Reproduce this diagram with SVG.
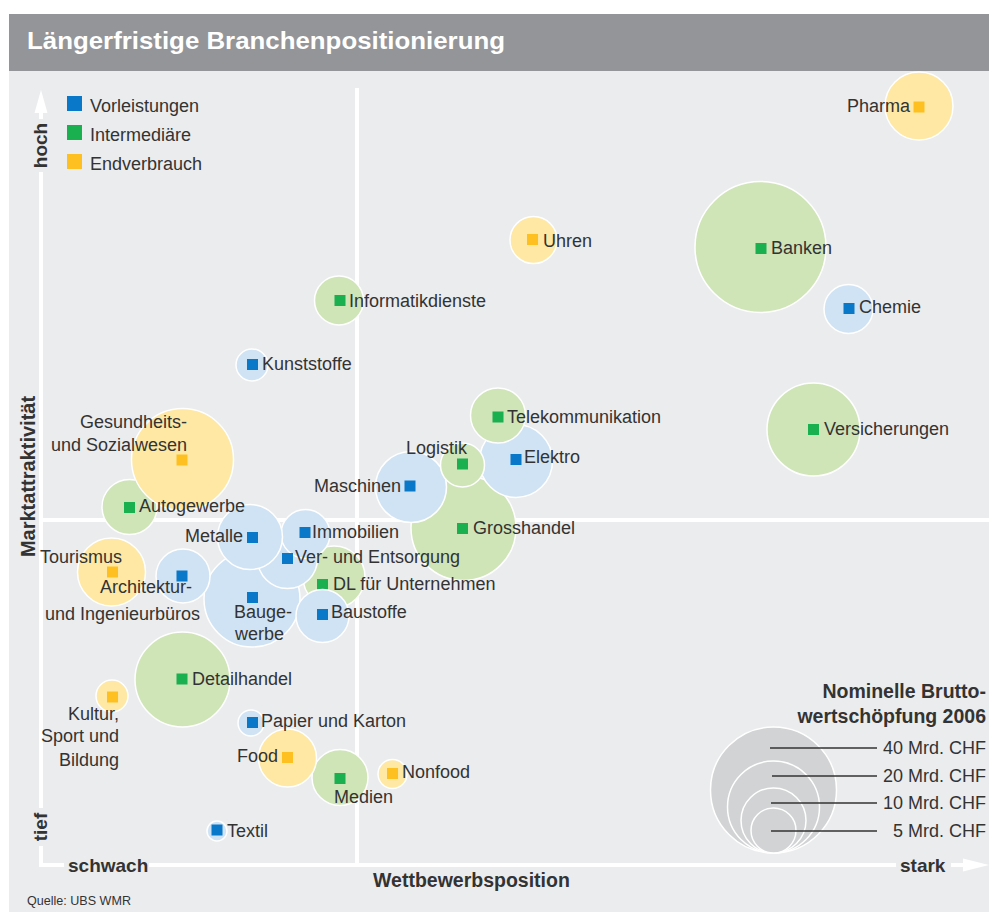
<svg xmlns="http://www.w3.org/2000/svg" width="989" height="914" viewBox="0 0 989 914">
<style>
.t{font-family:"Liberation Sans",Arial,sans-serif;font-size:18px;fill:#333}
.b{font-weight:bold}
.e{text-anchor:end}
.m{text-anchor:middle}
.cb{fill:#d0e3f4;stroke:#fff;stroke-width:1.5}
.cg{fill:#cfe5b8;stroke:#fff;stroke-width:1.5}
.cy{fill:#fee8a4;stroke:#fff;stroke-width:1.5}
.mb{fill:#0a78c8}
.mg{fill:#1aaf4f}
.my{fill:#fdc020}
.ax{stroke:#fff;stroke-width:4;fill:none}
.lc{fill:#d1d3d4;stroke:#fff;stroke-width:1.5}
.ll{stroke:#333;stroke-width:1.3}
</style>
<defs>
<clipPath id="outGes"><path clip-rule="evenodd" d="M0 0H989V914H0Z M130.75 459.5a51.75 51.75 0 1 0 103.5 0a51.75 51.75 0 1 0 -103.5 0Z"/></clipPath>
<clipPath id="outImm"><path clip-rule="evenodd" d="M0 0H989V914H0Z M280.25 534a25.25 25.25 0 1 0 50.5 0a25.25 25.25 0 1 0 -50.5 0Z"/></clipPath>
</defs>
<rect x="0" y="0" width="989" height="914" fill="#fff"/>
<g id="header">
<rect x="9" y="14" width="980" height="57" fill="#939598"/>
<text x="27" y="49" class="t b" style="font-size:24px;fill:#fff" textLength="478" lengthAdjust="spacingAndGlyphs">Längerfristige Branchenpositionierung</text>
</g>
<rect x="9" y="71" width="980" height="841" fill="#ebecee"/>
<g id="connectors">
<line class="ax" x1="357" y1="88" x2="357" y2="865"/>
<line class="ax" x1="41" y1="520" x2="989" y2="520"/>
<line class="ax" x1="41" y1="110" x2="41" y2="119"/>
<line class="ax" x1="41" y1="172" x2="41" y2="808"/>
<line class="ax" x1="41" y1="846" x2="41" y2="867"/>
<polygon points="41,90 34.5,113 47.5,113" fill="#fff"/>
<line class="ax" x1="39" y1="865" x2="64" y2="865"/>
<line class="ax" x1="149" y1="865" x2="896" y2="865"/>
<line class="ax" x1="951" y1="865" x2="966" y2="865"/>
<polygon points="989,865 963,858.5 963,871.5" fill="#fff"/>
</g>
<g id="axis-labels">
<text class="t b m" style="font-size:19px" transform="translate(47,145.5) rotate(-90)">hoch</text>
<text class="t b m" style="font-size:19px" transform="translate(47,827) rotate(-90)">tief</text>
<text class="t b m" style="font-size:20px" transform="translate(35,476.5) rotate(-90)">Marktattraktivität</text>
<text class="t b" style="font-size:19px" x="68" y="872">schwach</text>
<text class="t b" style="font-size:19px" x="900" y="872">stark</text>
<text class="t b" style="font-size:19.5px" x="373" y="887">Wettbewerbsposition</text>
<text class="t" style="font-size:13px" x="27" y="905" textLength="104" lengthAdjust="spacingAndGlyphs">Quelle: UBS WMR</text>
</g>
<g id="legend">
<rect class="mb" x="67" y="96" width="15" height="15"/>
<text class="t" x="90" y="112">Vorleistungen</text>
<rect class="mg" x="67" y="125" width="15" height="15"/>
<text class="t" x="90" y="141">Intermediäre</text>
<rect class="my" x="67" y="154" width="15" height="15"/>
<text class="t" x="90" y="170">Endverbrauch</text>
</g>
<g id="n-banken"><circle class="cg" cx="760.5" cy="247" r="65.5"/><rect class="mg" x="755.5" y="243" width="11" height="11"/><text class="t" x="771" y="254">Banken</text></g>
<g id="n-versicherungen"><circle class="cg" cx="813.5" cy="429.5" r="46.5"/><rect class="mg" x="808" y="424" width="11" height="11"/><text class="t" x="824" y="435">Versicherungen</text></g>
<g id="n-pharma"><circle class="cy" cx="919" cy="106" r="34"/><rect class="my" x="913.5" y="101.5" width="11" height="11"/><text class="t e" x="910" y="112">Pharma</text></g>
<g id="n-uhren"><circle class="cy" cx="533.5" cy="240" r="23.5"/><rect class="my" x="527" y="234" width="11" height="11"/><text class="t" x="543" y="247">Uhren</text></g>
<g id="n-chemie"><circle class="cb" cx="848.5" cy="309" r="24.5"/><rect class="mb" x="843.5" y="303" width="11" height="11"/><text class="t" x="859" y="313">Chemie</text></g>
<g id="n-informatikdienste"><circle class="cg" cx="339" cy="300.5" r="24.5"/><rect class="mg" x="334.5" y="295" width="11" height="11"/><text class="t" x="349" y="307">Informatikdienste</text></g>
<g id="n-kunststoffe"><circle class="cb" cx="252" cy="365" r="16"/><rect class="mb" x="247" y="359" width="11" height="11"/><text class="t" x="262" y="370">Kunststoffe</text></g>
<g id="n-grosshandel"><circle class="cg" cx="463.5" cy="528" r="52.5"/><rect class="mg" x="457" y="523" width="11" height="11"/><text class="t" x="473" y="534">Grosshandel</text></g>
<g id="n-maschinen"><circle class="cb" cx="411" cy="487" r="35.5"/><rect class="mb" x="404.5" y="480.5" width="11" height="11"/><text class="t e" x="401" y="492">Maschinen</text></g>
<g id="n-elektro"><circle class="cb" cx="516" cy="461" r="36.5"/><rect class="mb" x="510.5" y="454" width="11" height="11"/><text class="t" x="524" y="463">Elektro</text></g>
<g id="n-telekommunikation"><circle class="cg" cx="498" cy="415.5" r="27.5"/><rect class="mg" x="492.5" y="411.5" width="11" height="11"/><text class="t" x="507" y="423">Telekommunikation</text></g>
<g id="n-logistik"><circle class="cg" cx="462.5" cy="465" r="22"/><rect class="mg" x="457" y="458.5" width="11" height="11"/><text class="t" x="406" y="454">Logistik</text></g>
<g id="n-baugewerbe"><circle class="cb" cx="252" cy="599" r="48"/><rect class="mb" x="247" y="592" width="11" height="11"/><text class="t" x="234" y="618">Bauge-</text><text class="t" x="235" y="640">werbe</text></g>
<g id="n-dl"><circle class="cg" cx="334" cy="577" r="31"/><rect class="mg" x="317" y="579" width="11" height="11"/><text class="t" x="333" y="590">DL für Unternehmen</text></g>
<g id="n-immobilien"><circle class="cb" cx="305.5" cy="534" r="24.5"/><rect class="mb" x="299.5" y="527" width="11" height="11"/><text class="t" x="312" y="538">Immobilien</text></g>
<g id="n-ver"><circle class="cb" cx="287.5" cy="558.5" r="30" clip-path="url(#outImm)"/><rect class="mb" x="282" y="553" width="11" height="11"/><text class="t" x="295" y="563">Ver- und Entsorgung</text></g>
<g id="n-metalle"><circle class="cb" cx="250" cy="537" r="32.5"/><rect class="mb" x="247" y="532" width="11" height="11"/><text class="t e" x="243" y="542">Metalle</text></g>
<g id="n-baustoffe"><circle class="cb" cx="322.5" cy="616" r="26.5"/><rect class="mb" x="317" y="609" width="11" height="11"/><text class="t" x="331" y="618">Baustoffe</text></g>
<g id="n-tourismus"><circle class="cy" cx="111.5" cy="572" r="34"/><rect class="my" x="107" y="566.5" width="11" height="11"/><text class="t" x="40" y="563">Tourismus</text></g>
<g id="n-architektur"><circle class="cb" cx="183" cy="576" r="27"/><rect class="mb" x="176.5" y="570.5" width="11" height="11"/><text class="t" x="100" y="593">Architektur-</text><text class="t" x="45" y="620">und Ingenieurbüros</text></g>
<g id="n-gesundheit"><circle class="cy" cx="182.5" cy="459.5" r="51"/><rect class="my" x="176.5" y="454.5" width="11" height="11"/><text class="t e" x="187" y="428">Gesundheits-</text><text class="t e" x="187" y="451">und Sozialwesen</text></g>
<g id="n-autogewerbe"><circle class="cg" cx="129.5" cy="507" r="27.5" clip-path="url(#outGes)"/><rect class="mg" x="124" y="502" width="11" height="11"/><text class="t" x="139" y="512">Autogewerbe</text></g>
<g id="n-detailhandel"><circle class="cg" cx="182.5" cy="679.5" r="47.5"/><rect class="mg" x="176.5" y="673.5" width="11" height="11"/><text class="t" x="192" y="685">Detailhandel</text></g>
<g id="n-kultur"><circle class="cy" cx="112" cy="696" r="16"/><rect class="my" x="107" y="691.5" width="11" height="11"/><text class="t e" x="119" y="720">Kultur,</text><text class="t e" x="119" y="742">Sport und</text><text class="t e" x="119" y="766">Bildung</text></g>
<g id="n-medien"><circle class="cg" cx="340" cy="777.5" r="28"/><rect class="mg" x="334.5" y="773" width="11" height="11"/><text class="t" x="334" y="803">Medien</text></g>
<g id="n-food"><circle class="cy" cx="287.5" cy="758" r="29"/><rect class="my" x="282" y="752" width="11" height="11"/><text class="t e" x="278" y="762">Food</text></g>
<g id="n-papier"><circle class="cb" cx="251" cy="723" r="13"/><rect class="mb" x="247" y="717" width="11" height="11"/><text class="t" x="261" y="727">Papier und Karton</text></g>
<g id="n-nonfood"><circle class="cy" cx="392.5" cy="774" r="14.5"/><rect class="my" x="387" y="768" width="11" height="11"/><text class="t" x="402" y="778">Nonfood</text></g>
<g id="n-textil"><circle class="cb" cx="217" cy="831" r="10"/><rect class="mb" x="211.5" y="824.5" width="11" height="11"/><text class="t" x="227" y="837">Textil</text></g>
<g id="size-legend">
<text class="t b e" style="font-size:19.5px" x="986" y="698">Nominelle Brutto-</text>
<text class="t b e" style="font-size:19.5px" x="986" y="723">wertschöpfung 2006</text>
<circle class="lc" cx="773.5" cy="790" r="63"/>
<circle class="lc" cx="773.5" cy="807" r="46"/>
<circle class="lc" cx="773.5" cy="820.5" r="32.5"/>
<circle class="lc" cx="773.5" cy="830.5" r="22.5"/>
<line class="ll" x1="770" y1="748" x2="877" y2="748"/>
<line class="ll" x1="772" y1="776" x2="877" y2="776"/>
<line class="ll" x1="771" y1="803" x2="877" y2="803"/>
<line class="ll" x1="771" y1="831" x2="877" y2="831"/>
<text class="t e" x="986" y="754">40 Mrd. CHF</text>
<text class="t e" x="986" y="782">20 Mrd. CHF</text>
<text class="t e" x="986" y="809">10 Mrd. CHF</text>
<text class="t e" x="986" y="837">5 Mrd. CHF</text>
</g>
</svg>
